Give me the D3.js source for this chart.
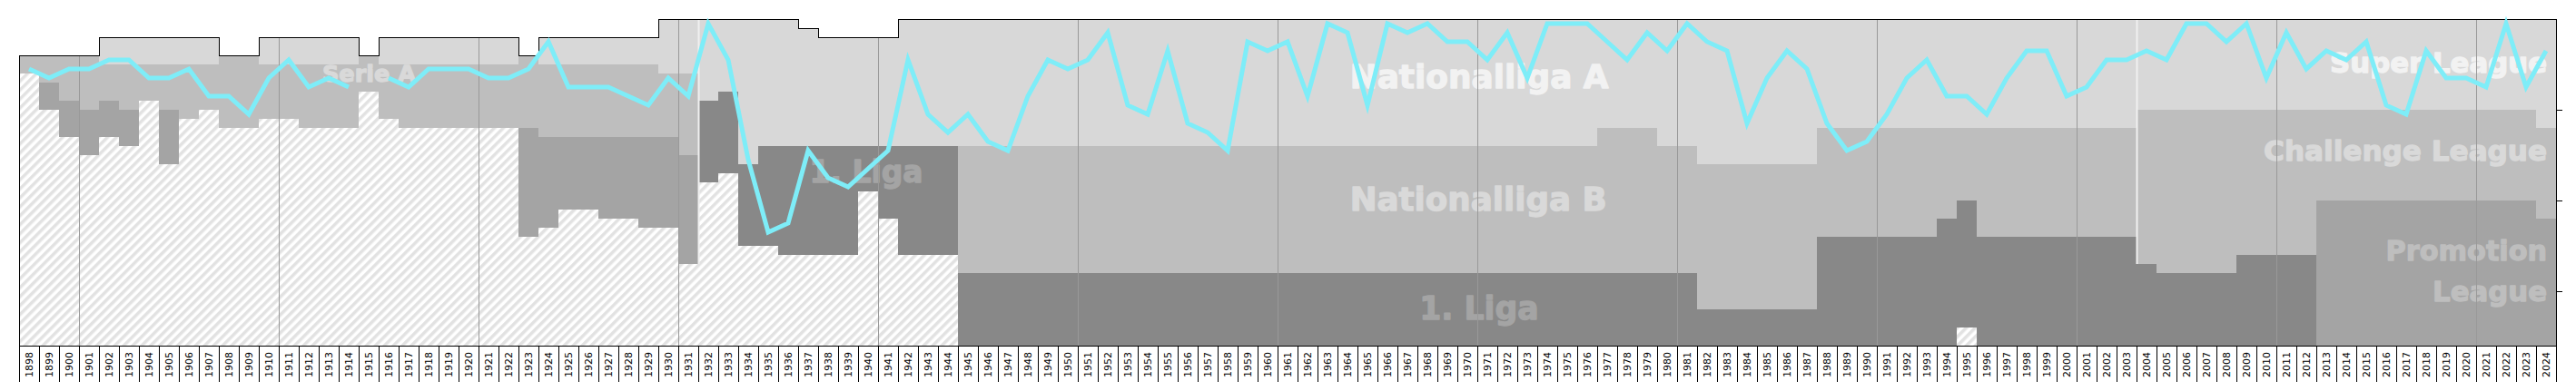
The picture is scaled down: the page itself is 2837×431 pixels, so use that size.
<!DOCTYPE html>
<html>
<head>
<meta charset="utf-8">
<script src="https://cdn.jsdelivr.net/npm/d3@7"></script>
<style>
html,body{margin:0;padding:0;background:#fff;}
svg{display:block;}
</style>
</head>
<body>
<svg id="chart" width="2837" height="431"></svg>
<script>
// ---------------- DATA ----------------
const firstYear = 1898, lastYear = 2024;
const years = d3.range(firstYear, lastYear + 1);
const totalRows = 36;

// league tier boundaries (rows counted from the top of the chart), one value per season
const topRow = [
  4,4,
  4,4,2,2,2,2,2,2,4,4,
  2,2,2,2,2,4,2,2,2,2,
  2,2,2,4,2,2,2,2,2,2,
  0,0,0,0,0,0,0,1,2,2,
  2,2,0,0,0,0,0,0,0,0,
  0,0,0,0,0,0,0,0,0,0,
  0,0,0,0,0,0,0,0,0,0,
  0,0,0,0,0,0,0,0,0,0,
  0,0,0,0,0,0,0,0,0,0,
  0,0,0,0,0,0,0,0,0,0,
  0,0,0,0,0,0,0,0,0,0,
  0,0,0,0,0,0,0,0,0,0,
  0,0,0,0,0
];
const endTier1 = [
  4,4,
  4,4,5,5,5,5,5,5,4,4,
  5,5,5,5,5,4,5,5,5,5,
  5,5,5,4,5,5,5,5,5,5,
  6,6,9,8,16,14,14,14,14,14,
  14,14,14,14,14,14,14,14,14,14,
  14,14,14,14,14,14,14,14,14,14,
  14,14,14,14,14,14,14,14,14,14,
  14,14,14,14,14,14,14,12,12,12,
  14,14,16,16,16,16,16,16,12,12,
  12,12,12,12,12,12,12,12,12,12,
  12,12,12,12,10,10,10,10,10,10,
  10,10,10,10,10,10,10,10,10,10,
  10,10,10,10,12
];
const endTier2 = [
  6,7,
  9,10,9,10,9,10,11,10,12,12,
  11,11,12,12,12,8,11,12,12,12,
  12,12,12,12,13,13,13,13,13,13,
  13,15,9,8,16,14,14,14,14,14,
  14,14,14,14,14,28,28,28,28,28,
  28,28,28,28,28,28,28,28,28,28,
  28,28,28,28,28,28,28,28,28,28,
  28,28,28,28,28,28,28,28,28,28,
  28,28,32,32,32,32,32,32,24,24,
  24,24,24,24,22,20,24,24,24,24,
  24,24,24,24,27,28,28,28,28,26,
  26,26,26,20,20,20,20,20,20,20,
  20,20,20,20,22
];
const endTier3 = [
  6,10,
  13,15,13,14,9,16,11,10,12,12,
  11,11,12,12,12,8,11,12,12,12,
  12,12,12,24,23,21,21,22,22,23,
  23,27,9,8,16,14,14,14,14,14,
  14,14,14,14,14,28,28,28,28,28,
  28,28,28,28,28,28,28,28,28,28,
  28,28,28,28,28,28,28,28,28,28,
  28,28,28,28,28,28,28,28,28,28,
  28,28,32,32,32,32,32,32,24,24,
  24,24,24,24,22,20,24,24,24,24,
  24,24,24,24,27,28,28,28,28,26,
  26,26,26,36,36,36,36,36,36,36,
  36,36,36,36,36
];
const endTier4 = [
  6,10,
  13,15,13,14,9,16,11,10,12,12,
  11,11,12,12,12,8,11,12,12,12,
  12,12,12,24,23,21,21,22,22,23,
  23,27,18,17,25,25,26,26,26,26,
  19,22,26,26,26,36,36,36,36,36,
  36,36,36,36,36,36,36,36,36,36,
  36,36,36,36,36,36,36,36,36,36,
  36,36,36,36,36,36,36,36,36,36,
  36,36,36,36,36,36,36,36,36,36,
  36,36,36,36,36,34,36,36,36,36,
  36,36,36,36,36,36,36,36,36,36,
  36,36,36,36,36,36,36,36,36,36,
  36,36,36,36,36
];
// overall position of the club in each season (null = no season)
const position = [
  6,7,
  6,6,5,5,7,7,6,9,9,11,
  7,5,8,7,8,null,7,8,6,6,
  6,7,7,6,3,8,8,8,9,10,
  7,9,1,5,16,24,23,15,18,19,
  17,15,5,11,13,11,14,15,9,5,
  6,5,2,10,11,4,12,13,15,3,
  4,3,9,1,2,10,1,2,1,3,
  3,5,2,7,1,1,1,3,5,2,
  4,1,3,4,12,7,4,6,12,15,
  14,11,7,5,9,9,11,7,4,4,
  9,8,5,5,4,5,1,1,3,1,
  7,2,6,4,5,3,10,11,4,7,
  7,8,1,8,4
];
const decadeLines = [1901,1911,1921,1931,1941,1951,1961,1971,1981,1991,2001,2011,2021];
const restructurings = [{year:1932, bottom:27},{year:2004, bottom:27}];
const rightTicks = [10, 20, 30];

// ---------------- STYLE ----------------
const tierFill = ['#d8d8d8','#bebebe','#a4a4a4','#888888','url(#hatch)'];
const labelFill = ['#f2f2f2','#d9d9d9','#bebebe','#a4a4a4'];
const leagueLabels = [
  {text:'Serie A',          at:1913.18, row:6.9,   size:25.5, len:103,   anchor:'start', tier:1},
  {text:'1. Liga',          at:1937.57, row:18.0,  size:33,   len:125,   anchor:'start', tier:3},
  {text:'Nationalliga A',   at:1964.62, row:7.57,  size:36,   len:285,   anchor:'start', tier:0},
  {text:'Nationalliga B',   at:1964.62, row:21.07, size:36,   len:283,   anchor:'start', tier:1},
  {text:'1. Liga',          at:1968.1,  row:33.07, size:35,   len:131.5, anchor:'start', tier:3},
  {text:'Super League',     at:2024.55, row:5.9,   size:31,   len:239,   anchor:'end',   tier:0},
  {text:'Challenge League', at:2024.55, row:15.63, size:31,   len:312,   anchor:'end',   tier:1},
  {text:'Promotion',        at:2024.55, row:26.57, size:31,   len:177.5, anchor:'end',   tier:2},
  {text:'League',           at:2024.55, row:31.07, size:31,   len:126,   anchor:'end',   tier:2}
];

// ---------------- CHART ----------------
const svg = d3.select('#chart');
const x = d3.scaleBand().domain(years).range([21, 2815]).paddingInner(0).paddingOuter(0);
const xl = d3.scaleLinear().domain([firstYear, lastYear + 1]).range([21, 2815]);
const y = d3.scaleLinear().domain([0, totalRows]).range([21, 381]);
const bw = x.bandwidth();

const defs = svg.append('defs');
const pat = defs.append('pattern').attr('id','hatch')
  .attr('patternUnits','userSpaceOnUse').attr('width',7).attr('height',7)
  .attr('patternTransform','rotate(45)');
pat.append('rect').attr('width',7).attr('height',7).attr('fill','#ffffff');
pat.append('rect').attr('width',3.5).attr('height',7).attr('fill','#e2e2e2');

const segs = [];
years.forEach((yr, i) => {
  const b = [topRow[i], endTier1[i], endTier2[i], endTier3[i], endTier4[i], totalRows];
  for (let t = 0; t < 5; t++) {
    if (b[t+1] > b[t]) segs.push({year:yr, from:b[t], to:b[t+1], tier:t});
  }
});

svg.append('g').attr('shape-rendering','crispEdges')
  .selectAll('rect').data(segs).join('rect')
  .attr('x', d => x(d.year))
  .attr('width', bw)
  .attr('y', d => y(d.from))
  .attr('height', d => y(d.to) - y(d.from))
  .attr('fill', d => tierFill[d.tier]);

// league names
svg.append('g').selectAll('text').data(leagueLabels).join('text')
  .attr('x', d => xl(d.at))
  .attr('y', d => y(d.row))
  .attr('text-anchor', d => d.anchor)
  .attr('font-family', '"DejaVu Sans", sans-serif')
  .attr('font-weight', 'bold')
  .attr('font-size', d => d.size)
  .attr('textLength', d => d.len)
  .attr('lengthAdjust', 'spacingAndGlyphs')
  .attr('fill', d => labelFill[d.tier])
  .attr('stroke', d => labelFill[d.tier])
  .attr('stroke-width', 1.3)
  .attr('stroke-linejoin', 'round')
  .text(d => d.text);

// decade grid lines
svg.append('g').attr('shape-rendering','crispEdges')
  .selectAll('line').data(decadeLines).join('line')
  .attr('x1', d => x(d) + 0.5).attr('x2', d => x(d) + 0.5)
  .attr('y1', d => y(topRow[d - firstYear])).attr('y2', y(totalRows))
  .attr('stroke', '#999999').attr('stroke-width', 1);

// restructuring separators
svg.append('g').selectAll('line').data(restructurings).join('line')
  .attr('x1', d => x(d.year) + 0.5).attr('x2', d => x(d.year) + 0.5)
  .attr('y1', y(0)).attr('y2', d => y(d.bottom))
  .attr('stroke', '#f0f0f0').attr('stroke-width', 2);

// frame with stepped top
let p = `M${x(firstYear)+0.5},${y(totalRows)+0.5}V${y(topRow[0])+0.5}`;
years.forEach((yr, i) => {
  const xr = x(yr) + bw + 0.5;
  p += `H${xr}`;
  const nextTop = i < years.length - 1 ? topRow[i+1] : totalRows;
  p += `V${y(nextTop) + 0.5}`;
});
p += `H${x(firstYear)+0.5}`;
svg.append('path').attr('d', p).attr('fill','none').attr('stroke','#000').attr('stroke-width',1)
  .attr('shape-rendering','crispEdges');

// right ticks
svg.append('g').attr('shape-rendering','crispEdges')
  .selectAll('line').data(rightTicks).join('line')
  .attr('x1', 2815.5).attr('x2', 2821.5)
  .attr('y1', d => y(d) + 0.5).attr('y2', d => y(d) + 0.5)
  .attr('stroke', '#000');

// position line
const lineData = years.map((yr, i) => ({year: yr, p: position[i]}));
const line = d3.line()
  .defined(d => d.p != null)
  .x(d => x(d.year) + bw / 2)
  .y(d => y(d.p - 0.5));
svg.append('path').datum(lineData).attr('d', line)
  .attr('fill','none').attr('stroke','#7eedf8').attr('stroke-width',5);

// bottom axis: ticks at season boundaries and rotated year labels
const bounds = years.concat([lastYear + 1]);
svg.append('g').attr('shape-rendering','crispEdges')
  .selectAll('line').data(bounds).join('line')
  .attr('x1', d => xl(d) + 0.5).attr('x2', d => xl(d) + 0.5)
  .attr('y1', y(totalRows)).attr('y2', 421)
  .attr('stroke', '#000');

svg.append('g').selectAll('text').data(years).join('text')
  .attr('transform', d => `translate(${x(d) + bw/2 + 4},388) rotate(-90)`)
  .attr('text-anchor', 'end')
  .attr('font-family', '"DejaVu Sans", sans-serif')
  .attr('font-size', 11)
  .attr('fill', '#000')
  .text(d => d);
</script>
</body>
</html>
